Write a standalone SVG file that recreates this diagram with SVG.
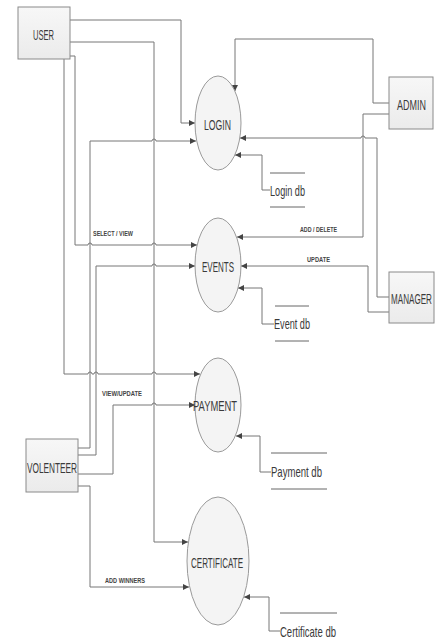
<svg xmlns="http://www.w3.org/2000/svg" width="435" height="644" viewBox="0 0 435 644">
<defs>
<marker id="arr" markerUnits="userSpaceOnUse" markerWidth="7" markerHeight="7" refX="6" refY="3" orient="auto">
<path d="M0,0 L6,3 L0,6 z" fill="#444"/>
</marker>
<linearGradient id="bg" x1="0" y1="0" x2="0" y2="1">
<stop offset="0" stop-color="#f7f7f7"/>
<stop offset="1" stop-color="#ebebeb"/>
</linearGradient>
</defs>
<style>
.box{fill:url(#bg);stroke:#8a8a8a;stroke-width:1}
.proc{fill:#f4f4f4;stroke:#9a9a9a;stroke-width:1}
.t{font-family:"Liberation Sans",Arial,sans-serif;font-size:15px;fill:#3a3a3a}
.db{stroke:#666;stroke-width:1}
.lbl{font-family:"Liberation Sans",Arial,sans-serif;font-size:8px;font-weight:bold;fill:#444}
.c{fill:none;stroke:#777;stroke-width:1;marker-end:url(#arr)}
</style>
<rect width="435" height="644" fill="#fff"/>

<g id="connectors">
<path class="c" d="M70,20 H181 V123 H195"/>
<path class="c" d="M70,42 H154 V542 H188"/>
<path class="c" d="M64,58 V374 H88 a2 2 0 0 1 4 0 H94 a2 2 0 0 1 4 0 H152 a2 2 0 0 1 4 0 H200"/>
<path class="c" d="M70,56 H75 V245 H88 a2 2 0 0 1 4 0 H152 a2 2 0 0 1 4 0 H197"/>
<path class="c" d="M78,448 H90 V141 H152 a2 2 0 0 1 4 0 H196"/>
<path class="c" d="M78,455 H96 V266 H152 a2 2 0 0 1 4 0 H195"/>
<path class="c" d="M78,474 H113 V405 H152 a2 2 0 0 1 4 0 H195"/>
<path class="c" d="M78,486 H90 V587 H189"/>
<path class="c" d="M389,103 H373 V39 H235 V91"/>
<path class="c" d="M389,114 H363 V237 H237"/>
<path class="c" d="M389,297 H377 V138 H365 a2 2 0 0 0 -4 0 H240"/>
<path class="c" d="M389,312 H368 V266 H241"/>
<path class="c" d="M270,190 H262 V155 H235"/>
<path class="c" d="M274,324 H262 V288 H238"/>
<path class="c" d="M271,472 H260 V436 H236"/>
<path class="c" d="M280,631 H269 V597 H244"/>
<text class="lbl" x="93" y="236" textLength="40" lengthAdjust="spacingAndGlyphs">SELECT / VIEW</text>
<text class="lbl" x="102" y="396" textLength="40" lengthAdjust="spacingAndGlyphs">VIEW/UPDATE</text>
<text class="lbl" x="300" y="232" textLength="37" lengthAdjust="spacingAndGlyphs">ADD / DELETE</text>
<text class="lbl" x="307" y="262" textLength="23" lengthAdjust="spacingAndGlyphs">UPDATE</text>
<text class="lbl" x="105" y="583" textLength="40" lengthAdjust="spacingAndGlyphs">ADD WINNERS</text>
</g>

<g id="user">
<rect class="box" x="18" y="7" width="52" height="52"/>
<text class="t" x="33" y="40" textLength="21" lengthAdjust="spacingAndGlyphs">USER</text>
</g>
<g id="admin">
<rect class="box" x="389" y="77" width="44" height="52"/>
<text class="t" transform="translate(397 110) scale(0.6 1)">ADMIN</text>
</g>
<g id="manager">
<rect class="box" x="389" y="272" width="45" height="51"/>
<text class="t" transform="translate(391 304) scale(0.54 1)">MANAGER</text>
</g>
<g id="volenteer">
<rect class="box" x="26" y="439" width="52" height="53"/>
<text class="t" x="27" y="473" textLength="50" lengthAdjust="spacingAndGlyphs">VOLENTEER</text>
</g>

<g id="login">
<ellipse class="proc" cx="218" cy="123" rx="23" ry="47"/>
<text class="t" x="204" y="130" textLength="27" lengthAdjust="spacingAndGlyphs">LOGIN</text>
</g>
<g id="events">
<ellipse class="proc" cx="218" cy="265" rx="23" ry="47"/>
<text class="t" x="202" y="272" textLength="32" lengthAdjust="spacingAndGlyphs">EVENTS</text>
</g>
<g id="payment">
<ellipse class="proc" cx="218" cy="405" rx="23" ry="47"/>
<text class="t" x="193" y="411" textLength="44" lengthAdjust="spacingAndGlyphs">PAYMENT</text>
</g>
<g id="certificate">
<ellipse class="proc" cx="218" cy="561" rx="31" ry="64"/>
<text class="t" x="191" y="568" textLength="52" lengthAdjust="spacingAndGlyphs">CERTIFICATE</text>
</g>

<g id="login-db">
<line class="db" x1="270" y1="173" x2="305" y2="173"/>
<line class="db" x1="270" y1="207" x2="305" y2="207"/>
<text class="t" x="270" y="196" textLength="35" lengthAdjust="spacingAndGlyphs">Login db</text>
</g>
<g id="event-db">
<line class="db" x1="275" y1="306" x2="309" y2="306"/>
<line class="db" x1="275" y1="341" x2="309" y2="341"/>
<text class="t" x="274" y="329" textLength="36" lengthAdjust="spacingAndGlyphs">Event db</text>
</g>
<g id="payment-db">
<line class="db" x1="271" y1="453" x2="327" y2="453"/>
<line class="db" x1="271" y1="489" x2="327" y2="489"/>
<text class="t" x="271" y="477" textLength="51" lengthAdjust="spacingAndGlyphs">Payment db</text>
</g>
<g id="certificate-db">
<line class="db" x1="280" y1="613" x2="337" y2="613"/>
<text class="t" x="280" y="637" textLength="56" lengthAdjust="spacingAndGlyphs">Certificate db</text>
</g>
</svg>
